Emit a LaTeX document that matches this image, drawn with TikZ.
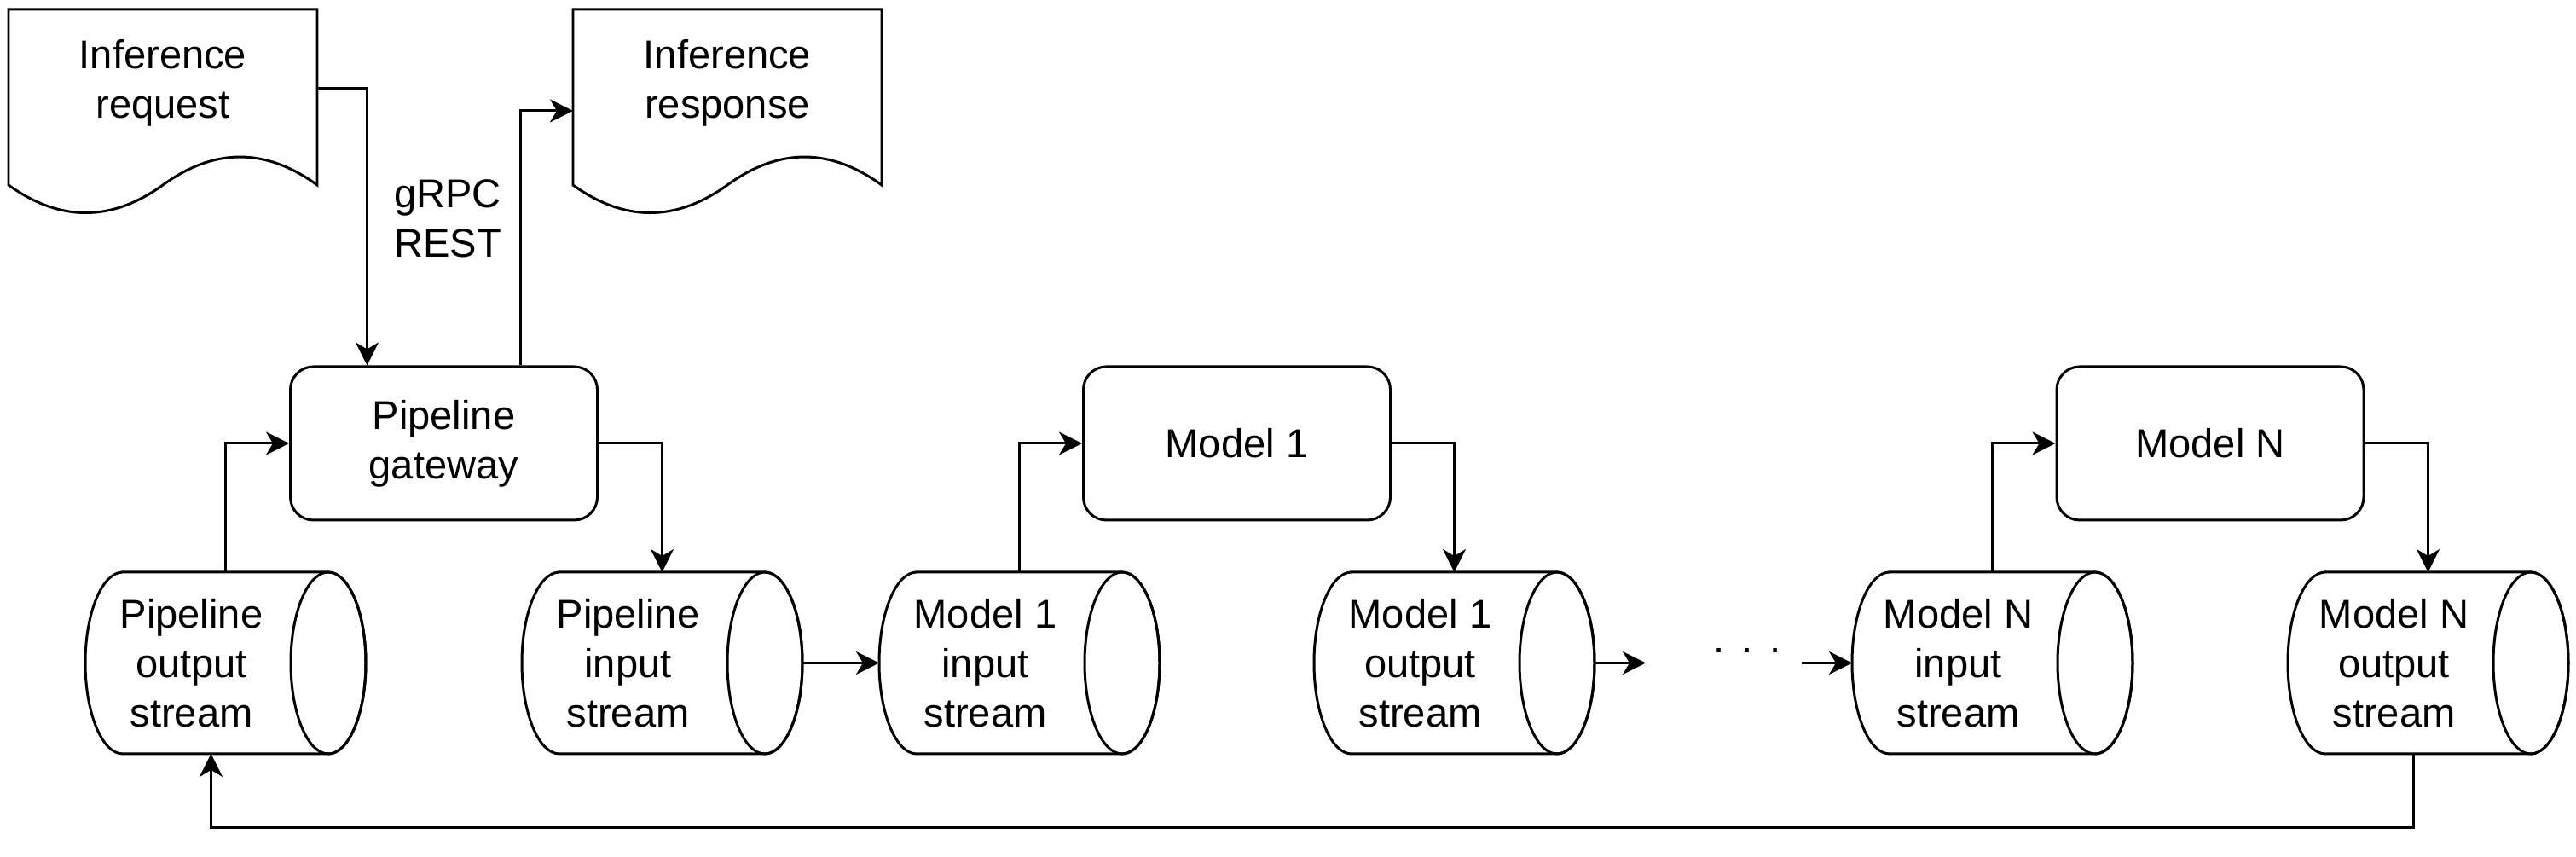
\documentclass[tikz,border=0pt]{standalone}
\usepackage{fontspec}
\setmainfont{Liberation Sans}
\usetikzlibrary{arrows.meta}

\tikzset{
  box/.style={draw, rounded corners=2.7mm, minimum width=3.6cm, minimum height=1.8cm, align=center},
  doc/.style={minimum width=3.62cm, minimum height=1.72cm, align=center, outer sep=0pt},
  stream/.style={minimum width=3.29cm, minimum height=2.13cm, outer sep=0pt},
  slabel/.style={align=center, xshift=-4mm},
  arr/.style={-{Stealth[length=2.7mm,width=2.7mm,inset=0.8mm]}},
}

\begin{document}
\begin{tikzpicture}[line width=0.85pt, font=\fontsize{13.4}{16.5}\selectfont]
\useasboundingbox (0,0) rectangle (30.21,10.05);

% documents
\node[doc] (req) at (1.91,9.08) {Inference\\request};
\node[doc] (resp) at (8.53,9.08) {Inference\\response};
\foreach \d in {req,resp}
  \draw (\d.north west) -- (\d.north east) -- ([yshift=-3.4mm]\d.south east)
    .. controls ([shift={(3.017,0.099)}]\d.south west) and ([shift={(2.413,0.099)}]\d.south west) .. ([shift={(1.81,-0.34)}]\d.south west)
    .. controls ([shift={(1.207,-0.774)}]\d.south west) and ([shift={(0.603,-0.774)}]\d.south west) .. ([yshift=-3.4mm]\d.south west) -- cycle;

% gateway and models
\node[box] (gw) at (5.205,4.85) {Pipeline\\gateway};
\node[box] (m1) at (14.505,4.85) {Model 1};
\node[box] (mN) at (25.92,4.85) {Model N};

% streams
\node[stream, label={[slabel]center:Pipeline\\output\\stream}] (pout) at (2.645,2.275) {};
\node[stream, label={[slabel]center:Pipeline\\input\\stream}] (pin) at (7.765,2.275) {};
\node[stream, label={[slabel]center:Model 1\\input\\stream}] (m1in) at (11.955,2.275) {};
\node[stream, label={[slabel]center:Model 1\\output\\stream}] (m1out) at (17.055,2.275) {};
\node[stream, label={[slabel]center:Model N\\input\\stream}] (mNin) at (23.365,2.275) {};
\node[stream, label={[slabel]center:Model N\\output\\stream}] (mNout) at (28.475,2.275) {};
\foreach \s in {pout,pin,m1in,m1out,mNin,mNout} {
  \draw ([xshift=4.4mm]\s.north west) -- ([xshift=-4.4mm]\s.north east)
    arc[start angle=90, end angle=-90, x radius=4.4mm, y radius=10.65mm]
    -- ([xshift=4.4mm]\s.south west)
    arc[start angle=270, end angle=90, x radius=4.4mm, y radius=10.65mm] -- cycle;
  \draw ([xshift=-4.4mm]\s.east) ellipse[x radius=4.4mm, y radius=10.65mm];
}

\node[anchor=base] (dots) at (20.49,2.39) {.\hspace{2mm}.\hspace{2mm}.};
\coordinate (gapL) at (19.30,2.275);
\coordinate (gapR) at (21.13,2.275);

% connectors
\draw[arr] ([yshift=-0.7mm]req.east) -| ([xshift=-9mm]gw.north);
\draw[arr] ([xshift=9mm]gw.north) |- ([yshift=-3.3mm]resp.west);
\node[align=center] (proto) at (5.25,7.49) {gRPC\\REST};
\draw[arr] (pout.north) |- (gw.west);
\draw[arr] (gw.east) -| (pin.north);
\draw[arr] (pin.east) -- (m1in.west);
\draw[arr] (m1in.north) |- (m1.west);
\draw[arr] (m1.east) -| (m1out.north);
\draw[arr] (m1out.east) -- (gapL);
\draw[arr] (gapR) -- (mNin.west);
\draw[arr] (mNin.north) |- (mN.west);
\draw[arr] (mN.east) -| (mNout.north);
\draw[arr] ([xshift=-1.7mm]mNout.south) -- ++(0,-0.865) -| ([xshift=-1.7mm]pout.south);
\end{tikzpicture}
\end{document}
